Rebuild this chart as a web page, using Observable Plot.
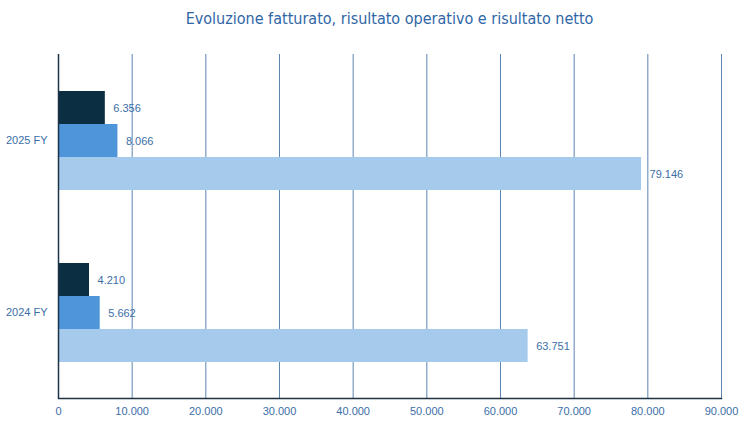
<!DOCTYPE html>
<html>
<head>
<meta charset="utf-8">
<script src="https://cdn.jsdelivr.net/npm/d3@7"></script>
<script src="https://cdn.jsdelivr.net/npm/@observablehq/plot@0.6"></script>
<style>
  html, body { margin: 0; padding: 0; background: #fff; }
  #wrap { width: 753px; height: 426px; position: relative; }
  #title {
    height: 44px; box-sizing: border-box; padding-top: 9px;
    padding-left: 58px; padding-right: 32px;
    text-align: center;
    font-family: "Liberation Sans Narrow", "DejaVu Sans Condensed", "Roboto Condensed", sans-serif;
    font-stretch: condensed;
    font-size: 16px; color: #2f66a6;
  }
  svg { display: block; }
</style>
</head>
<body>
<div id="wrap">
  <div id="title">Evoluzione fatturato, risultato operativo e risultato netto</div>
  <div id="chart"></div>
</div>
<script>
const years = ["2025 FY", "2024 FY"];
const series = ["Risultato netto", "Risultato operativo", "Fatturato"];
const netto = [6356, 4210];
const operativo = [8066, 5662];
const fatturato = [79146, 63751];
const xTicks = [0, 10000, 20000, 30000, 40000, 50000, 60000, 70000, 80000, 90000];
const colors = ["#0b2e42", "#4e95d9", "#a6caec"];

const values = [netto, operativo, fatturato];
const data = [];
years.forEach((y, i) => series.forEach((s, j) => data.push({year: y, series: s, value: values[j][i]})));

const fmt = d => d3.format(",")(d).replace(/,/g, ".");
const labelColor = "#3b6ea8";

const chart = Plot.plot({
  width: 753,
  height: 382,
  marginTop: 10,
  marginBottom: 28,
  marginLeft: 58,
  marginRight: 32,
  style: {fontFamily: "Liberation Sans, Arial, sans-serif", fontSize: "11px", color: labelColor, background: "#fff"},
  x: {domain: [0, 90000], ticks: xTicks, tickFormat: fmt, label: null},
  fy: {domain: years, padding: 0, label: null},
  y: {domain: series, paddingInner: 0, paddingOuter: 1.106, axis: null},
  color: {domain: series, range: colors},
  marks: [
    Plot.ruleX(xTicks.slice(1), {stroke: "#4a78a8", strokeWidth: 1, strokeOpacity: 0.9}),
    Plot.barX(data, {fy: "year", y: "series", x: "value", fill: "series", inset: 0}),
    Plot.text(data, {fy: "year", y: "series", x: "value", text: d => fmt(d.value), textAnchor: "start", dx: 8, fill: labelColor, fontSize: 11}),
    Plot.ruleX([0], {stroke: "#1f3346", strokeWidth: 1.5}),
    Plot.frame({anchor: "bottom", facetAnchor: "bottom", stroke: "#1f3346", strokeWidth: 1.5}),
    Plot.axisX({ticks: xTicks, tickFormat: fmt, tickSize: 0, tickPadding: 9, label: null, fill: labelColor, facetAnchor: "bottom"}),
    Plot.axisFy({anchor: "left", tickSize: 0, tickPadding: 11, label: null, fill: labelColor})
  ]
});
document.getElementById("chart").appendChild(chart);
</script>
</body>
</html>
